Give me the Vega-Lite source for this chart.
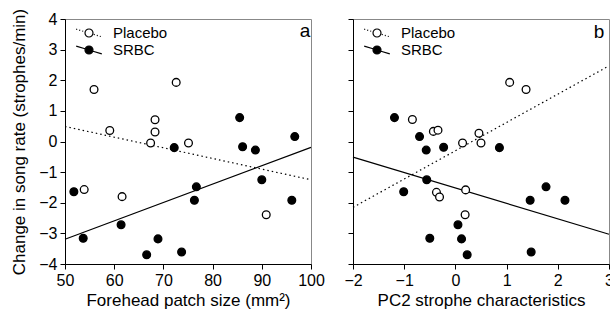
{
  "$schema": "https://vega.github.io/schema/vega-lite/v6.json",
  "padding": {"left": 10, "top": 7, "right": 0, "bottom": 0},
  "config": {
    "font": "Liberation Sans",
    "view": {"stroke": "#888", "strokeWidth": 1},
    "axis": {"grid": false, "domainColor": "black", "tickColor": "black", "labelColor": "black", "titleColor": "black", "labelFontSize": 16, "titleFontSize": 17, "titleFontWeight": "normal", "tickSize": 5, "labelPadding": 3, "labelFlush": false, "labelOverlap": false},
    "legend": {"title": null, "orient": "none", "legendX": 15, "legendY": 5, "padding": 0, "labelFontSize": 15, "labelColor": "black", "symbolSize": 256, "symbolStrokeColor": "black", "symbolStrokeWidth": 1.2, "rowPadding": 0, "labelOffset": 15, "symbolOpacity": 1},
    "concat": {"spacing": 18}
  },
  "datasets": {
    "a": [
      {"group": "Placebo", "x": 53.9, "y": -1.57},
      {"group": "Placebo", "x": 55.9, "y": 1.70},
      {"group": "Placebo", "x": 59.1, "y": 0.36},
      {"group": "Placebo", "x": 61.6, "y": -1.80},
      {"group": "Placebo", "x": 67.4, "y": -0.05},
      {"group": "Placebo", "x": 68.3, "y": 0.71},
      {"group": "Placebo", "x": 68.3, "y": 0.31},
      {"group": "Placebo", "x": 72.6, "y": 1.93},
      {"group": "Placebo", "x": 75.1, "y": -0.05},
      {"group": "Placebo", "x": 90.9, "y": -2.39},
      {"group": "SRBC", "x": 51.8, "y": -1.64},
      {"group": "SRBC", "x": 53.7, "y": -3.16},
      {"group": "SRBC", "x": 61.4, "y": -2.72},
      {"group": "SRBC", "x": 66.6, "y": -3.70},
      {"group": "SRBC", "x": 68.9, "y": -3.18},
      {"group": "SRBC", "x": 72.2, "y": -0.20},
      {"group": "SRBC", "x": 73.7, "y": -3.61},
      {"group": "SRBC", "x": 76.7, "y": -1.48},
      {"group": "SRBC", "x": 76.3, "y": -1.92},
      {"group": "SRBC", "x": 85.5, "y": 0.78},
      {"group": "SRBC", "x": 86.1, "y": -0.17},
      {"group": "SRBC", "x": 88.7, "y": -0.28},
      {"group": "SRBC", "x": 90.0, "y": -1.25},
      {"group": "SRBC", "x": 96.1, "y": -1.92},
      {"group": "SRBC", "x": 96.7, "y": 0.16}
    ],
    "aLines": [
      {"group": "Placebo", "x": 50, "y": 0.49},
      {"group": "Placebo", "x": 100, "y": -1.25},
      {"group": "SRBC", "x": 50, "y": -3.19},
      {"group": "SRBC", "x": 100, "y": -0.19}
    ],
    "b": [
      {"group": "Placebo", "x": -0.84, "y": 0.72},
      {"group": "Placebo", "x": -0.43, "y": 0.33},
      {"group": "Placebo", "x": -0.34, "y": 0.37},
      {"group": "Placebo", "x": -0.37, "y": -1.66},
      {"group": "Placebo", "x": -0.31, "y": -1.81},
      {"group": "Placebo", "x": 0.14, "y": -0.05},
      {"group": "Placebo", "x": 0.20, "y": -1.58},
      {"group": "Placebo", "x": 0.19, "y": -2.39},
      {"group": "Placebo", "x": 0.46, "y": 0.27},
      {"group": "Placebo", "x": 0.50, "y": -0.05},
      {"group": "Placebo", "x": 1.06, "y": 1.93},
      {"group": "Placebo", "x": 1.38, "y": 1.70},
      {"group": "SRBC", "x": -1.19, "y": 0.78},
      {"group": "SRBC", "x": -1.01, "y": -1.64},
      {"group": "SRBC", "x": -0.70, "y": 0.16},
      {"group": "SRBC", "x": -0.57, "y": -0.28},
      {"group": "SRBC", "x": -0.56, "y": -1.25},
      {"group": "SRBC", "x": -0.50, "y": -3.16},
      {"group": "SRBC", "x": -0.23, "y": -0.19},
      {"group": "SRBC", "x": 0.05, "y": -2.72},
      {"group": "SRBC", "x": 0.12, "y": -3.18},
      {"group": "SRBC", "x": 0.23, "y": -3.70},
      {"group": "SRBC", "x": 0.86, "y": -0.20},
      {"group": "SRBC", "x": 1.46, "y": -1.92},
      {"group": "SRBC", "x": 1.48, "y": -3.61},
      {"group": "SRBC", "x": 1.77, "y": -1.48},
      {"group": "SRBC", "x": 2.14, "y": -1.92}
    ],
    "bLines": [
      {"group": "Placebo", "x": -2, "y": -2.15},
      {"group": "Placebo", "x": 3, "y": 2.47},
      {"group": "SRBC", "x": -2, "y": -0.51},
      {"group": "SRBC", "x": 3, "y": -3.03}
    ]
  },
  "hconcat": [
    {
      "width": 246,
      "height": 245,
      "title": {"text": "a", "anchor": "end", "orient": "top", "offset": -33, "dx": -14, "fontSize": 19, "fontWeight": "normal", "color": "black"},
      "encoding": {
        "x": {"field": "x", "type": "quantitative", "scale": {"domain": [50, 100], "nice": false}, "axis": {"title": "Forehead patch size (mm²)", "tickCount": 5}},
        "y": {"field": "y", "type": "quantitative", "scale": {"domain": [-4, 4], "nice": false}, "axis": {"title": "Change in song rate (strophes/min)", "titlePadding": 10, "tickCount": 8}}
      },
      "layer": [
        {
          "data": {"name": "aLines"},
          "transform": [{"filter": "datum.group === 'Placebo'"}],
          "mark": {"type": "line", "color": "black", "strokeWidth": 1.2, "strokeDash": [1.5, 3]}
        },
        {
          "data": {"name": "aLines"},
          "transform": [{"filter": "datum.group === 'SRBC'"}],
          "mark": {"type": "line", "color": "black", "strokeWidth": 1.2}
        },
        {
          "data": {"name": "a"},
          "mark": {"type": "point", "filled": true, "stroke": "black", "strokeWidth": 1.3, "size": 60, "opacity": 1},
          "encoding": {
            "fill": {"field": "group", "type": "nominal", "scale": {"domain": ["Placebo", "SRBC"], "range": ["white", "black"]},
              "legend": {"encode": {"symbols": {"update": {"shape": {"signal": "datum.value === 'Placebo' ? 'M-1.6,-0.48L-1.475,-0.4425M-1.225,-0.3675L-1.1,-0.33M-0.85,-0.255L-0.725,-0.2175M0.6,0.18L0.725,0.2175M0.975,0.2925L1.1,0.33M1.35,0.405L1.475,0.4425M0.5,0A0.5,0.5,0,1,1,-0.5,0A0.5,0.5,0,1,1,0.5,0Z' : 'M-1.6,-0.48L-0.5,-0.15M0.5,0.15L1.6,0.48M0.5,0A0.5,0.5,0,1,1,-0.5,0A0.5,0.5,0,1,1,0.5,0Z'"}}}}}}
          }
        }
      ]
    },
    {
      "width": 256,
      "height": 245,
      "title": {"text": "b", "anchor": "end", "orient": "top", "offset": -23, "dx": -9, "fontSize": 19, "fontWeight": "normal", "color": "black"},
      "encoding": {
        "x": {"field": "x", "type": "quantitative", "scale": {"domain": [-2, 3], "nice": false}, "axis": {"title": "PC2 strophe characteristics", "tickCount": 5}},
        "y": {"field": "y", "type": "quantitative", "scale": {"domain": [-4, 4], "nice": false}, "axis": {"title": null, "labels": false, "tickCount": 8}}
      },
      "layer": [
        {
          "data": {"name": "bLines"},
          "transform": [{"filter": "datum.group === 'Placebo'"}],
          "mark": {"type": "line", "color": "black", "strokeWidth": 1.2, "strokeDash": [1.5, 3]}
        },
        {
          "data": {"name": "bLines"},
          "transform": [{"filter": "datum.group === 'SRBC'"}],
          "mark": {"type": "line", "color": "black", "strokeWidth": 1.2}
        },
        {
          "data": {"name": "b"},
          "mark": {"type": "point", "filled": true, "stroke": "black", "strokeWidth": 1.3, "size": 60, "opacity": 1},
          "encoding": {
            "fill": {"field": "group", "type": "nominal", "scale": {"domain": ["Placebo", "SRBC"], "range": ["white", "black"]},
              "legend": {"encode": {"symbols": {"update": {"shape": {"signal": "datum.value === 'Placebo' ? 'M-1.6,-0.48L-1.475,-0.4425M-1.225,-0.3675L-1.1,-0.33M-0.85,-0.255L-0.725,-0.2175M0.6,0.18L0.725,0.2175M0.975,0.2925L1.1,0.33M1.35,0.405L1.475,0.4425M0.5,0A0.5,0.5,0,1,1,-0.5,0A0.5,0.5,0,1,1,0.5,0Z' : 'M-1.6,-0.48L-0.5,-0.15M0.5,0.15L1.6,0.48M0.5,0A0.5,0.5,0,1,1,-0.5,0A0.5,0.5,0,1,1,0.5,0Z'"}}}}}}
          }
        }
      ]
    }
  ],
  "resolve": {"scale": {"fill": "independent"}, "legend": {"fill": "independent"}}
}
